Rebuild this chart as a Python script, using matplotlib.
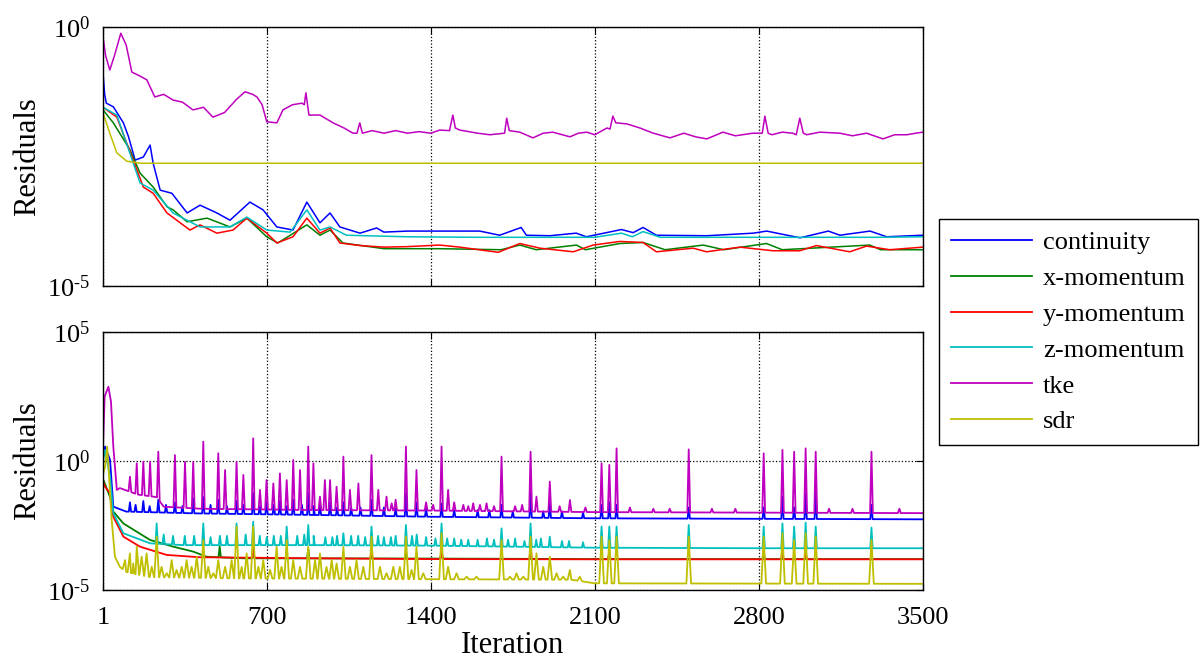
import numpy as np
import matplotlib
matplotlib.use("Agg")
import matplotlib.pyplot as plt
from matplotlib.ticker import FixedLocator, FixedFormatter, NullLocator

plt.rcParams["font.family"] = ["Liberation Serif", "DejaVu Serif"]
plt.rcParams["mathtext.fontset"] = "custom"
plt.rcParams["mathtext.rm"] = "Liberation Serif"
plt.rcParams["mathtext.it"] = "Liberation Serif"

# ---- data: residuals, stored as log10 values ----
names = ["continuity", "x-momentum", "y-momentum", "z-momentum", "tke", "sdr"]
colors = ["#0000ff", "#008000", "#ff0000", "#00bfbf", "#bf00bf", "#bfbf00"]
x_ticks = [1, 700, 1400, 2100, 2800, 3500]

# top panel
cont_top_it = [1, 8, 15, 45, 88, 110, 138, 173, 202, 215, 245, 295, 360, 415, 487,
               543, 628, 684, 743, 812, 871, 927, 970, 1012, 1098, 1169, 1200, 1300,
               1438, 1609, 1694, 1786, 1808, 1907, 2021, 2064, 2214, 2264, 2306, 2363,
               2577, 2777, 2834, 2976, 3097, 3146, 3275, 3346, 3500]
cont_top = [-0.89, -1.30, -1.47, -1.54, -1.85, -2.12, -2.57, -2.51, -2.28, -2.63, -3.15,
            -3.21, -3.59, -3.44, -3.59, -3.73, -3.38, -3.53, -3.86, -3.92, -3.38, -3.78,
            -3.59, -3.86, -3.98, -3.88, -3.96, -3.94, -3.94, -3.94, -4.02, -3.87, -4.02,
            -4.03, -3.98, -4.05, -3.91, -3.97, -3.87, -4.02, -4.03, -3.98, -3.94, -4.07,
            -3.94, -4.02, -3.94, -4.05, -4.02]
xmom_top_it = [1, 45, 116, 159, 215, 274, 300, 360, 445, 543, 615, 700, 747, 871, 927,
               970, 1025, 1200, 1438, 1700, 1780, 1850, 2022, 2060, 2207, 2306, 2400,
               2563, 2650, 2833, 2900, 3274, 3320, 3500]
xmom_top = [-1.60, -1.85, -2.37, -2.82, -3.09, -3.47, -3.53, -3.76, -3.69, -3.86, -3.69,
            -4.05, -4.17, -3.82, -4.02, -3.92, -4.17, -4.28, -4.28, -4.30, -4.21, -4.30,
            -4.21, -4.30, -4.18, -4.16, -4.30, -4.21, -4.30, -4.18, -4.30, -4.21, -4.30,
            -4.30]
ymom_top_it = [1, 60, 130, 173, 215, 274, 372, 415, 487, 556, 615, 700, 743, 812, 871,
               927, 970, 1012, 1100, 1200, 1300, 1438, 1524, 1688, 1780, 1866, 2008,
               2093, 2207, 2306, 2363, 2520, 2577, 2719, 2861, 2975, 3046, 3188, 3260,
               3359, 3500]
ymom_top = [-1.55, -1.74, -2.57, -3.09, -3.21, -3.59, -3.92, -3.82, -3.98, -3.92, -3.69,
            -3.98, -4.17, -4.05, -3.69, -3.98, -3.88, -4.17, -4.22, -4.25, -4.24, -4.21,
            -4.25, -4.35, -4.18, -4.27, -4.34, -4.21, -4.14, -4.16, -4.34, -4.27, -4.34,
            -4.25, -4.32, -4.32, -4.22, -4.34, -4.23, -4.30, -4.25]
zmom_top_it = [1, 60, 159, 215, 300, 415, 543, 615, 700, 800, 871, 927, 970, 1040, 1300,
               1600, 1900, 2100, 2214, 2260, 2306, 2380, 2700, 3000, 3300, 3500]
zmom_top = [-1.55, -1.70, -3.01, -3.15, -3.59, -3.86, -3.86, -3.67, -3.92, -3.96, -3.53,
            -3.92, -3.86, -4.02, -4.05, -4.06, -4.06, -4.06, -3.98, -4.05, -3.95, -4.06,
            -4.06, -4.06, -4.06, -4.05]
tke_top_it = [1, 12, 30, 50, 77, 100, 124, 160, 188, 222, 260, 300, 340, 385, 430, 470,
              520, 570, 607, 640, 658, 680, 700, 743, 769, 810, 850, 860, 867, 880, 927,
              983, 1030, 1068, 1085, 1097, 1108, 1150, 1200, 1250, 1300, 1350, 1400, 1438,
              1480, 1494, 1505, 1524, 1600, 1652, 1715, 1724, 1735, 1780, 1836, 1880,
              1921, 1994, 2030, 2066, 2100, 2152, 2165, 2177, 2190, 2237, 2293, 2350,
              2421, 2480, 2530, 2578, 2647, 2700, 2775, 2815, 2826, 2840, 2856, 2900,
              2945, 2960, 2975, 2990, 3005, 3060, 3146, 3200, 3260, 3330, 3380, 3432,
              3470, 3500]
tke_top = [-0.19, -0.55, -0.83, -0.55, -0.12, -0.35, -0.87, -0.95, -1.02, -1.35, -1.30,
           -1.41, -1.45, -1.60, -1.55, -1.74, -1.65, -1.40, -1.25, -1.30, -1.35, -1.50,
           -1.83, -1.85, -1.60, -1.50, -1.47, -1.50, -1.27, -1.70, -1.70, -1.85, -1.95,
           -2.05, -2.05, -1.85, -2.05, -2.00, -2.05, -2.00, -2.05, -2.02, -2.05, -1.99,
           -2.00, -1.70, -1.95, -1.99, -2.05, -2.08, -2.05, -1.76, -2.00, -2.03, -2.14,
           -2.05, -2.03, -2.12, -2.05, -2.03, -2.08, -1.95, -1.97, -1.72, -1.85, -1.87,
           -1.95, -2.05, -2.14, -2.05, -2.12, -2.16, -2.03, -2.10, -2.05, -2.05, -1.72,
           -2.05, -2.08, -2.03, -2.05, -2.08, -1.76, -2.05, -2.08, -2.03, -2.05, -2.10,
           -2.05, -2.16, -2.08, -2.08, -2.05, -2.03]
sdr_top_it = [1, 30, 60, 102, 159, 3500]
sdr_top = [-1.66, -2.05, -2.43, -2.59, -2.63, -2.63]

# bottom panel: baseline knots + spikes (iteration, peak)
cont_bot_it = [1, 10, 31, 45, 100, 400, 900, 1400, 2100, 2800, 3500]
cont_bot = [0.30, 0.56, 0.04, -1.77, -1.96, -2.03, -2.09, -2.16, -2.22, -2.24, -2.26]
cont_spk_it = [116, 140, 173, 200, 237, 270, 308, 340, 386, 429, 460, 493, 530, 571, 600,
               642, 670, 699, 730, 756, 785, 813, 850, 877, 900, 927, 970, 1000, 1027,
               1060, 1100, 1147, 1200, 1250, 1294, 1339, 1380, 1446, 1500, 1600, 1650,
               1702, 1750, 1826, 1880, 1908, 1960, 2050, 2129, 2162, 2193, 2501, 2821,
               2901, 2951, 3000, 3043, 3281]
cont_spk = [-1.60, -1.70, -1.55, -1.75, -1.50, -1.70, -1.60, -1.75, -1.45, -1.40, -1.70,
            -1.50, -1.75, -1.55, -1.70, -1.25, -1.75, -1.60, -1.70, -1.55, -1.75, -1.50,
            -1.70, -1.25, -1.75, -1.70, -1.60, -1.80, -1.60, -1.80, -1.80, -1.50, -1.80,
            -1.85, -1.25, -1.60, -1.85, -1.65, -1.90, -1.90, -1.90, -1.70, -1.95, -1.25,
            -1.95, -1.60, -1.95, -2.00, -1.70, -1.60, -1.70, -1.80, -1.80, -1.38, -1.80,
            -1.25, -1.12, -1.70]

xmom_bot_it = [1, 10, 31, 45, 88, 202, 301, 386, 443, 600, 1400, 2100, 3500]
xmom_bot = [-0.70, -0.90, -1.40, -1.96, -2.42, -3.06, -3.32, -3.51, -3.71, -3.77, -3.78,
            -3.80, -3.80]
xmom_spk_it = [499, 642, 877, 1294, 1446, 2162, 2821]
xmom_spk = [-3.30, -3.30, -3.40, -3.50, -3.45, -3.55, -3.50]

ymom_bot_it = [1, 10, 31, 45, 88, 159, 273, 415, 900, 1400, 2100, 3500]
ymom_bot = [-0.80, -1.00, -1.25, -2.16, -2.93, -3.32, -3.64, -3.73, -3.77, -3.80, -3.81,
            -3.81]
ymom_spk_it = [642, 1147, 1446, 1826, 2162, 2901, 3000]
ymom_spk = [-3.30, -3.50, -3.40, -3.30, -3.50, -3.50, -3.50]

zmom_bot_it = [1, 10, 31, 45, 88, 202, 344, 900, 1400, 2100, 2800, 3500]
zmom_bot = [0.00, 0.43, -0.61, -2.03, -2.80, -3.19, -3.26, -3.26, -3.28, -3.36, -3.38,
            -3.38]
zmom_spk_it = [230, 260, 300, 350, 390, 429, 460, 500, 530, 571, 610, 642, 670, 700, 730,
               760, 785, 830, 860, 877, 900, 950, 980, 1000, 1027, 1060, 1090, 1120,
               1147, 1175, 1200, 1230, 1250, 1294, 1320, 1340, 1380, 1420, 1446, 1470,
               1500, 1530, 1560, 1600, 1640, 1670, 1702, 1730, 1760, 1800, 1826, 1850,
               1870, 1908, 1960, 1990, 2050, 2129, 2162, 2193, 2501, 2821, 2901, 2951,
               3000, 3043, 3281]
zmom_spk = [-2.42, -2.85, -2.90, -2.90, -2.90, -2.42, -2.95, -2.90, -2.90, -2.42, -2.85,
            -2.35, -2.90, -2.95, -2.90, -2.90, -2.54, -2.90, -2.85, -2.48, -2.90, -2.95,
            -2.95, -2.90, -2.80, -2.90, -2.90, -2.95, -2.54, -2.90, -2.95, -2.95, -2.90,
            -2.48, -2.90, -2.85, -2.95, -3.00, -2.42, -3.00, -3.00, -3.05, -3.05, -3.05,
            -3.00, -3.05, -2.61, -3.05, -3.00, -3.10, -2.42, -3.05, -3.00, -2.93, -3.10,
            -3.10, -3.15, -2.54, -2.54, -2.54, -2.48, -2.54, -2.42, -2.54, -2.39, -2.54,
            -2.58]

tke_bot_it = [1, 8, 24, 35, 45, 60, 73, 150, 230, 260, 415, 884, 1400, 2100, 2800, 3500]
tke_bot = [0.60, 2.50, 2.88, 2.30, 0.55, -1.12, -1.05, -1.30, -1.40, -1.77, -1.85, -1.90,
           -1.92, -1.98, -2.00, -2.02]
tke_spk_it = [116, 145, 173, 202, 237, 308, 351, 386, 429, 493, 522, 571, 600, 642, 671,
              699, 728, 756, 785, 813, 842, 877, 899, 927, 948, 970, 998, 1027, 1055,
              1091, 1147, 1176, 1211, 1233, 1250, 1294, 1339, 1380, 1410, 1446, 1474,
              1500, 1539, 1560, 1581, 1610, 1638, 1670, 1702, 1760, 1790, 1826, 1851,
              1908, 1950, 1994, 2060, 2129, 2162, 2193, 2250, 2350, 2420, 2501, 2600,
              2700, 2821, 2901, 2951, 3000, 3043, 3100, 3200, 3281, 3400]
tke_spk = [-0.61, -0.09, -0.03, -0.03, 0.36, 0.23, -0.03, -0.03, 0.75, 0.30, -0.35, -0.03,
           -0.54, 0.88, -1.12, -0.74, -0.87, -0.48, -0.74, 0.04, -0.35, 0.56, -0.09, -1.38,
           -0.74, -0.74, -1.00, 0.17, -1.12, -0.87, 0.23, -1.12, -1.38, -1.64, -1.50, 0.56,
           -0.35, -1.60, -1.70, 0.56, -1.12, -1.60, -1.70, -1.75, -1.64, -1.70, -1.64,
           -1.75, 0.17, -1.75, -1.70, 0.36, -1.38, -0.80, -1.75, -1.51, -1.80, -0.09,
           -0.15, 0.49, -1.80, -1.85, -1.85, 0.45, -1.85, -1.85, 0.30, 0.43, 0.36, 0.49,
           0.36, -1.85, -1.85, 0.36, -1.85]

sdr_bot_it = [1, 10, 19, 38, 52, 73, 100, 200, 600, 1400, 2000, 2100, 3500]
sdr_bot = [-0.50, -0.22, 0.56, -2.29, -3.71, -4.10, -4.30, -4.50, -4.55, -4.58, -4.60,
           -4.74, -4.76]
sdr_spk_it = [95, 116, 130, 145, 166, 187, 209, 230, 251, 273, 294, 315, 337, 358, 379,
              401, 429, 450, 472, 493, 522, 550, 571, 593, 614, 642, 664, 685, 714, 742,
              763, 785, 813, 842, 877, 906, 927, 955, 977, 998, 1027, 1055, 1083, 1112,
              1147, 1183, 1211, 1240, 1268, 1294, 1318, 1339, 1368, 1446, 1474, 1510,
              1553, 1595, 1702, 1738, 1766, 1795, 1826, 1851, 1880, 1908, 1937, 1965,
              1994, 2036, 2129, 2162, 2193, 2501, 2821, 2901, 2951, 3000, 3043, 3281]
sdr_spk = [-3.84, -3.58, -3.97, -3.32, -3.71, -3.58, -4.10, -2.93, -4.10, -4.35, -3.84,
           -4.22, -4.10, -3.84, -4.10, -3.71, -3.06, -4.10, -4.35, -3.84, -4.10, -3.84,
           -2.54, -4.10, -3.58, -2.54, -4.10, -3.84, -4.22, -3.32, -4.10, -3.06, -3.84,
           -4.10, -3.32, -3.84, -3.58, -4.10, -3.84, -3.97, -3.32, -4.10, -3.84, -4.10,
           -2.93, -4.10, -4.35, -4.10, -4.10, -2.93, -4.22, -3.32, -4.35, -2.80, -4.10,
           -4.35, -4.48, -4.48, -3.06, -4.48, -4.35, -4.48, -2.93, -3.58, -4.10, -3.71,
           -4.35, -4.48, -4.22, -4.48, -2.93, -3.06, -2.93, -2.93, -2.93, -2.80, -3.06,
           -2.80, -2.93, -3.06]


def spiky(base_it, base_val, spk_it, spk_val, w):
    # narrow spikes standing on the baseline
    pts = list(zip(base_it, base_val))
    for s, p in zip(spk_it, spk_val):
        pts.append((s - w, np.interp(s - w, base_it, base_val)))
        pts.append((s, p))
        pts.append((s + w, np.interp(s + w, base_it, base_val)))
    pts.sort()
    it, val = zip(*pts)
    return np.array(it), 10.0 ** np.array(val)


top_series = [(cont_top_it, cont_top), (xmom_top_it, xmom_top), (ymom_top_it, ymom_top),
              (zmom_top_it, zmom_top), (tke_top_it, tke_top), (sdr_top_it, sdr_top)]
bot_series = [spiky(cont_bot_it, cont_bot, cont_spk_it, cont_spk, 5),
              spiky(xmom_bot_it, xmom_bot, xmom_spk_it, xmom_spk, 5),
              spiky(ymom_bot_it, ymom_bot, ymom_spk_it, ymom_spk, 5),
              spiky(zmom_bot_it, zmom_bot, zmom_spk_it, zmom_spk, 5),
              spiky(tke_bot_it, tke_bot, tke_spk_it, tke_spk, 6),
              spiky(sdr_bot_it, sdr_bot, sdr_spk_it, sdr_spk, 10)]

fig = plt.figure(figsize=(12.02, 6.64), dpi=100)
ax1 = fig.add_axes([0.0857, 0.5693, 0.682, 0.390])
ax2 = fig.add_axes([0.0857, 0.1114, 0.682, 0.3886])

lines = []
for (it, val), c in zip(top_series, colors):
    ax1.plot(it, 10.0 ** np.array(val), color=c, lw=1.1)
for (it, val), c, n in zip(bot_series, colors, names):
    ln, = ax2.plot(it, val, color=c, lw=1.3, label=n)
    lines.append(ln)

ylabels = {1e-5: r"$10^{\text{-}5}$", 1e0: r"$10^{0}$", 1e5: r"$10^{5}$"}
for ax, yt in [(ax1, [1e-5, 1e0]), (ax2, [1e-5, 1e0, 1e5])]:
    ax.set_yscale("log")
    ax.set_xlim(1, 3500)
    ax.set_ylim(yt[0], yt[-1])
    ax.yaxis.set_major_locator(FixedLocator(yt))
    ax.yaxis.set_major_formatter(FixedFormatter([ylabels[v] for v in yt]))
    ax.yaxis.set_minor_locator(NullLocator())
    ax.set_xticks(x_ticks)
    ax.tick_params(direction="in", top=True, right=True, length=5, labelsize=19)
    ax.tick_params(axis="x", pad=12)
    ax.tick_params(axis="y", pad=9)
    ax.grid(True, linestyle=":", color="k", lw=0.9)
    ax.set_ylabel("Residuals", fontsize=22, labelpad=4)
    for sp in ax.spines.values():
        sp.set_linewidth(1.0)

ax1.set_xticklabels([])
ax2.set_xticklabels([str(t) for t in x_ticks])
ax2.set_xlabel("Iteration", fontsize=22, labelpad=2)

fig.legend(handles=lines, labels=names, loc="center left",
           bbox_to_anchor=(0.781, 0.5), fontsize=19, frameon=True, fancybox=False,
           edgecolor="k", framealpha=1, handlelength=3.1, handletextpad=0.4,
           labelspacing=0.47, borderpad=0.45, borderaxespad=0)

fig.savefig("out.png", dpi=100)
plt.close(fig)
